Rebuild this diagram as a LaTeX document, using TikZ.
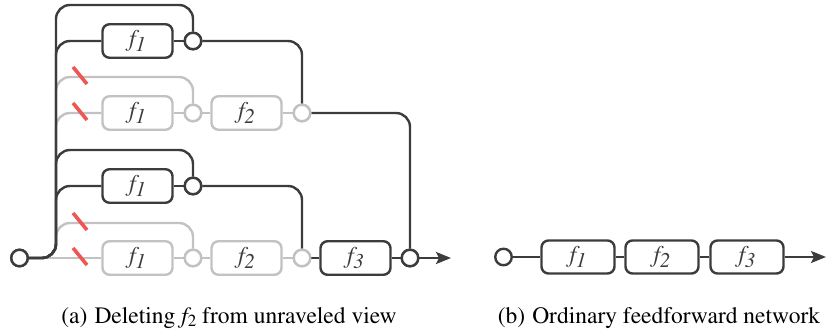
\documentclass[tikz,border=0pt]{standalone}
\usepackage[T1]{fontenc}
\usepackage{mathptmx}
\usetikzlibrary{arrows.meta}
\definecolor{dk}{HTML}{3C3C3C}
\definecolor{lg}{HTML}{C2C2C2}
\definecolor{rd}{HTML}{F05555}
\newcommand{\flab}[1]{{\color{dk}\fontsize{24}{24}\selectfont\itshape f\kern-0.5pt\raisebox{-5pt}{\fontsize{21}{21}\selectfont #1}}}
\tikzset{
  dbox/.style={draw=dk, line width=2.4pt, rounded corners=7pt, minimum width=70pt, minimum height=33.5pt, inner sep=0pt},
  gbox/.style={draw=lg, line width=2.4pt, rounded corners=7pt, minimum width=70pt, minimum height=33.5pt, inner sep=0pt},
  rbox/.style={draw=dk, line width=2.4pt, rounded corners=7pt, minimum width=73pt, minimum height=33pt, inner sep=0pt},
  dcirc/.style={circle, draw=dk, fill=white, line width=2.4pt, minimum size=16.5pt, inner sep=0pt},
  gcirc/.style={circle, draw=lg, fill=white, line width=2.4pt, minimum size=16.5pt, inner sep=0pt},
  dline/.style={draw=dk, line width=2.4pt, rounded corners=14pt},
  gline/.style={draw=lg, line width=2.4pt, rounded corners=14pt},
  cutmark/.style={draw=rd, line width=3.6pt},
  arr/.style={-{Stealth[length=15pt,width=12pt,inset=3pt]}},
  captxt/.style={font=\fontsize{23.5}{24}\selectfont, anchor=base, inner sep=0pt}
}
\begin{document}
\begin{tikzpicture}[x=1pt,y=-1pt]
\useasboundingbox (0,0) rectangle (827,331);
% nodes (a)
\node[dcirc] (in) at (19.5,258) {};
\node[dbox] (a1) at (137.5,41) {\flab{1}};
\node[dcirc] (ca1) at (193,41) {};
\node[gbox] (ga1) at (137.5,113) {\flab{1}};
\node[gcirc] (gc1) at (193,113) {};
\node[gbox] (ga2) at (246.5,113) {\flab{2}};
\node[gcirc] (gc2) at (302,113) {};
\node[dbox] (b1) at (137.5,186) {\flab{1}};
\node[dcirc] (cb1) at (193,186) {};
\node[gbox] (gb1) at (137.5,258) {\flab{1}};
\node[gcirc] (gc3) at (193,258) {};
\node[gbox] (gb2) at (246.5,258) {\flab{2}};
\node[gcirc] (gc4) at (302,258) {};
\node[dbox] (f3) at (355.5,258) {\flab{3}};
\node[dcirc] (cout) at (410,258) {};
\coordinate (outa) at (451,258);
% gray connectors
\path[gline] (in.east) -- (56,258) -- (56,77) -- (193,77) -- (gc1.north);
\path[gline] (in.east) -- (56,258) -- (56,113) -- (ga1.west);
\path[gline] (in.east) -- (56,258) -- (56,223) -- (193,223) -- (gc3.north);
\path[gline] (in.east) -- (gb1.west);
\path[gline] (ga1.east) -- (gc1.west);
\path[gline] (gc1.east) -- (ga2.west);
\path[gline] (ga2.east) -- (gc2.west);
\path[gline] (gb1.east) -- (gc3.west);
\path[gline] (gc3.east) -- (gb2.west);
\path[gline] (gb2.east) -- (gc4.west);
% dark connectors
\path[dline] (in.east) -- (56,258) -- (56,5) -- (193,5) -- (ca1.north);
\path[dline] (in.east) -- (56,258) -- (56,41) -- (a1.west);
\path[dline] (a1.east) -- (ca1.west);
\path[dline] (ca1.east) -- (302,41) -- (gc2.north);
\path[dline] (gc2.east) -- (410,113) -- (cout.north);
\path[dline] (in.east) -- (56,258) -- (56,150) -- (193,150) -- (cb1.north);
\path[dline] (in.east) -- (56,258) -- (56,186) -- (b1.west);
\path[dline] (b1.east) -- (cb1.west);
\path[dline] (cb1.east) -- (302,186) -- (gc4.north);
\path[dline] (gc4.east) -- (f3.west);
\path[dline] (f3.east) -- (cout.west);
\path[dline, arr, fill=dk] (cout.east) -- (outa);
% redraw circles on top
\node[dcirc] at (in) {};
\node[dcirc] at (ca1) {};
\node[dcirc] at (cb1) {};
\node[gcirc] at (gc1) {};
\node[gcirc] at (gc2) {};
\node[gcirc] at (gc3) {};
\node[gcirc] at (gc4) {};
\node[dcirc] at (cout) {};
% cuts
\foreach \yy in {77,113,223,258} {
  \path[cutmark] (73,\yy-10) -- (87,\yy+7);
}
% (b)
\node[dcirc] (rin) at (503.5,257) {};
\node[rbox] (r1) at (578,257) {\flab{1}};
\node[rbox] (r2) at (662,257) {\flab{2}};
\node[rbox] (r3) at (747,257) {\flab{3}};
\coordinate (outb) at (826,257);
\path[dline] (rin.east) -- (r1.west);
\path[dline] (r1.east) -- (r2.west);
\path[dline] (r2.east) -- (r3.west);
\path[dline, arr, fill=dk] (r3.east) -- (outb);
% captions
\node[captxt] (capa) at (229,323) {(a)\hspace{0.3em}Deleting {\itshape f}\raisebox{-3pt}{\fontsize{17}{17}\selectfont 2} from unraveled view};
\node[captxt] (capb) at (659,323) {(b)\hspace{0.3em}Ordinary feedforward network};
\end{tikzpicture}
\end{document}
